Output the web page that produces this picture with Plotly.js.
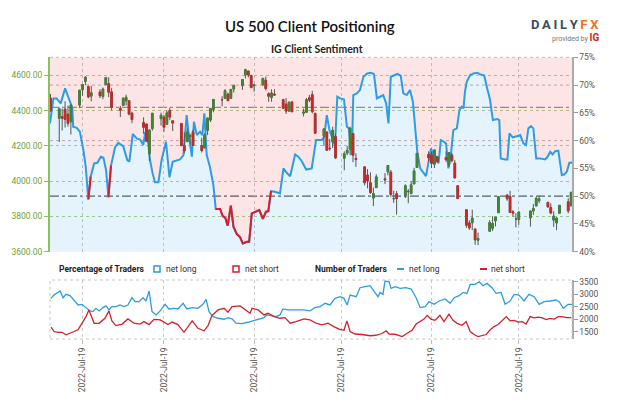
<!DOCTYPE html>
<html><head><meta charset="utf-8">
<script src="https://cdn.plot.ly/plotly-3.0.1.min.js"></script>
<style>html,body{margin:0;padding:0;background:#fff}#chart{width:625px;height:416px}</style>
</head><body><div id="chart"></div>
<script>
// ---------- DATA ----------
const candleDates = [
'01-21','01-24','01-25','01-26','01-27','01-28','01-31',
'02-01','02-02','02-03','02-04','02-07','02-08','02-09','02-10','02-11','02-14','02-15','02-16','02-17','02-18','02-22','02-23','02-24','02-25','02-28',
'03-01','03-02','03-03','03-04','03-07','03-08','03-09','03-10','03-11','03-14','03-15','03-16','03-17','03-18','03-21','03-22','03-23','03-24','03-25','03-28','03-29','03-30','03-31',
'04-01','04-04','04-05','04-06','04-07','04-08','04-11','04-12','04-13','04-14','04-18','04-19','04-20','04-21','04-22','04-25','04-26','04-27','04-28','04-29',
'05-02','05-03','05-04','05-05','05-06','05-09','05-10','05-11','05-12','05-13','05-16','05-17','05-18','05-19','05-20','05-23','05-24','05-25','05-26','05-27','05-31',
'06-01','06-02','06-03','06-06','06-07','06-08','06-09','06-10','06-13','06-14','06-15','06-16','06-17','06-21','06-22','06-23','06-24','06-27','06-28','06-29','06-30',
'07-01','07-05','07-06','07-07','07-08','07-11','07-12','07-13','07-14','07-15','07-18','07-19'];
const openP = [
4471,4356,4366,4408,4380,4337,4431,
4519,4566,4535,4482,4505,4480,4547,4553,4506,4412,4429,4455,4456,4385,4332,4324,4155,4298,4354,
4363,4322,4401,4342,4327,4202,4224,4252,4279,4202,4188,4288,4346,4407,4462,4469,4493,4470,4522,4541,4602,4624,4599,
4540,4547,4572,4495,4474,4494,4463,4437,4397,4449,4385,4390,4473,4490,4385,4255,4279,4187,4222,4253,
4130,4159,4181,4270,4129,4081,4035,3991,3904,3963,4013,4052,4051,3900,3928,3920,3942,3929,3984,4078,4151,
4149,4096,4137,4134,4096,4148,4102,3974,3838,3763,3764,3729,3665,3716,3733,3775,3821,3920,3913,3826,3785,
3782,3792,3831,3859,3889,3880,3851,3779,3763,3818,3883,3860];
const highP = [
4494,4417,4411,4453,4428,4432,4516,
4550,4595,4542,4540,4521,4531,4590,4589,4527,4426,4472,4490,4456,4394,4362,4324,4295,4385,4388,
4375,4401,4416,4342,4327,4276,4299,4268,4292,4247,4271,4358,4412,4465,4481,4522,4501,4521,4546,4576,4637,4627,4603,
4549,4583,4593,4503,4521,4521,4464,4471,4453,4453,4411,4471,4489,4512,4386,4299,4279,4240,4308,4270,
4169,4200,4308,4270,4158,4081,4068,4050,3964,4039,4046,4090,4063,3946,3944,3982,3955,3999,4076,4158,4169,
4166,4177,4143,4169,4164,4160,4119,3974,3838,3778,3838,3729,3708,3779,3801,3796,3913,3928,3945,3836,3818,
3829,3832,3870,3910,3918,3880,3874,3829,3796,3863,3903,3939];
const lowP = [
4395,4222,4287,4304,4309,4264,4414,
4484,4544,4470,4452,4471,4465,4547,4477,4402,4364,4429,4429,4373,4328,4268,4221,4114,4286,4315,
4279,4322,4345,4284,4199,4157,4224,4209,4200,4162,4187,4261,4335,4391,4424,4469,4455,4465,4502,4517,4582,4588,4530,
4507,4539,4514,4450,4450,4485,4408,4381,4393,4392,4367,4388,4448,4384,4267,4200,4175,4173,4188,4125,
4062,4147,4147,4107,4081,3976,3959,3928,3859,3963,3983,4033,3911,3877,3810,3904,3875,3926,3984,4077,4110,
4074,4074,4107,4110,4081,4107,4017,3900,3735,3724,3723,3639,3637,3716,3717,3743,3821,3889,3820,3799,3738,
3752,3742,3809,3859,3875,3850,3813,3741,3722,3817,3818,3860];
const closeP = [
4398,4410,4356,4350,4327,4432,4516,
4547,4589,4477,4501,4484,4522,4587,4504,4419,4402,4471,4475,4380,4349,4305,4226,4289,4385,4374,
4306,4387,4363,4329,4201,4171,4278,4260,4204,4173,4262,4358,4412,4463,4461,4512,4456,4520,4543,4576,4632,4602,4530,
4546,4583,4525,4481,4500,4488,4413,4397,4447,4393,4392,4462,4459,4394,4272,4296,4175,4184,4288,4132,
4155,4175,4300,4147,4123,3991,4001,3935,3930,4024,4008,4089,3924,3901,3901,3974,3941,3979,4058,4158,4132,
4101,4177,4109,4121,4161,4116,4018,3901,3750,3735,3790,3667,3675,3765,3760,3796,3912,3900,3822,3819,3785,
3825,3831,3845,3903,3899,3854,3819,3802,3790,3863,3831,3937];

// Net-long sentiment (%), time in days after 2022-02-01
const sentDays = [
-11.2,-10.0,-8.9,-7.5,-6.0,-4.3,-3.5,-3.2,-2.0,-0.9,
0.3,1.1,2.0,2.8,4.0,5.1,6.3,7.2,8.1,8.9,
9.8,11.2,12.3,14.0,15.4,16.1,17.3,18.6,19.8,20.9,
21.5,22.3,23.2,24.1,24.9,26.1,27.2,28.7,29.9,31.0,
32.4,33.5,34.7,35.8,36.6,37.6,38.3,39.3,40.4,41.2,
41.9,42.7,43.8,45.0,45.8,47.3,48.2,49.1,49.9,51.0,
51.9,53.0,54.2,55.1,56.5,57.3,58.2,59.7,60.8,62.0,
63.1,63.9,64.8,66.2,67.9,69.1,70.2,71.4,73.1,74.2,
75.4,76.9,78.8,80.3,82.3,83.1,84.0,84.9,86.0,86.8,
87.6,88.6,89.9,90.9,91.6,92.6,93.1,94.3,95.4,96.6,
97.9,99.1,100.2,101.2,102.3,103.4,104.4,105.2,106.0,107.1,
108.3,109.4,110.3,111.5,112.6,113.6,114.3,115.1,116.1,117.2,
118.1,118.9,119.8,120.6,121.6,122.4,123.2,124.3,125.0,125.8,
126.7,127.5,128.7,129.6,130.4,131.0,131.5,132.1,133.3,134.4,
135.8,136.9,138.1,139.0,140.1,141.1,141.9,142.6,143.3,143.8,
145.3,146.1,146.8,147.9,149.3,150.5,151.6,152.5,153.3,154.2,
155.0,156.0,157.3,159.0,159.8,160.8,161.6,162.5,163.6,164.8,
165.6,166.5,167.4,168.3];
const sentPct = [
63.1,67.6,67.6,66.7,69.4,67.0,65.9,62.5,62.3,61.6,
58.3,55.3,49.4,53.5,55.9,56.0,57.1,56.9,54.7,49.8,
55.5,58.8,59.6,59.0,56.5,56.2,61.2,60.4,60.2,59.2,
61.3,61.0,56.5,54.1,52.5,52.5,56.5,59.8,53.4,56.2,
56.5,56.6,57.4,64.6,60.7,57.1,63.4,61.0,61.6,61.0,
64.9,57.4,55.3,52.0,47.7,47.7,46.4,46.1,44.7,48.3,
44.5,43.2,42.6,41.5,41.8,41.8,46.9,47.2,47.5,45.9,
47.2,47.3,50.9,50.8,50.5,55.0,54.2,53.6,57.5,57.1,
56.3,54.8,55.0,60.1,60.1,60.7,64.6,61.9,60.2,59.1,
67.9,67.6,67.4,62.5,62.2,57.4,68.2,68.5,69.1,71.5,
72.1,72.2,72.0,67.6,67.9,68.2,66.7,63.1,71.5,71.8,
72.0,71.7,68.5,68.2,69.1,67.0,63.4,58.0,55.0,54.2,
53.6,55.9,58.6,57.4,57.1,55.9,60.1,59.8,59.5,55.0,
57.7,61.9,62.2,65.5,66.1,65.8,68.8,70.6,71.8,72.1,
72.2,71.9,71.7,69.7,67.4,63.7,63.8,63.9,63.7,56.8,
56.6,56.6,61.3,60.6,60.8,61.0,59.5,59.2,62.2,62.6,
62.2,56.8,56.8,56.6,57.0,58.0,57.5,58.1,58.2,53.8,
53.9,54.4,56.0,56.0];

// Number of traders, net long
const longDays = [
-10.9,-9.8,-8.4,-7.7,-6.7,-5.7,-4.3,-2.9,-1.5,-0.2,
1.2,2.6,3.6,4.6,5.7,7.0,8.1,9.1,10.1,11.5,
12.9,14.3,15.6,17.0,18.1,19.4,20.8,21.8,22.9,23.9,
25.3,26.7,28.4,29.7,31.5,32.8,34.6,35.9,37.7,39.7,
41.4,42.5,43.5,44.9,46.6,48.7,50.0,51.4,52.8,54.8,
56.9,58.3,59.7,61.0,62.4,63.4,64.8,66.5,67.9,68.9,
70.7,73.4,76.2,78.2,79.9,81.7,83.4,85.1,86.8,88.6,
89.9,91.0,92.0,94.1,95.4,97.1,98.9,100.2,101.6,102.3,
103.3,104.0,105.4,106.1,107.5,109.2,111.2,113.0,114.7,116.1,
117.8,119.1,120.9,122.6,124.7,126.4,127.8,129.5,130.9,132.2,
133.3,135.0,136.4,137.7,139.1,140.8,142.2,143.9,145.3,147.0,
148.4,150.1,151.8,153.5,155.3,157.0,158.7,160.8,162.8,163.9,
165.3,167.0,168.3];
const longCount = [
2833,2967,3073,3127,2860,2993,2940,2767,2567,2593,
2460,2327,2300,2433,2327,2460,2527,2367,2500,2500,
2567,2500,2567,2860,2700,2700,2860,2727,3127,2300,
2167,2327,2593,2407,2433,2407,2633,2407,2460,2433,
2593,2793,2300,2100,2033,1993,2060,2007,1833,1820,
1873,1927,1967,2033,2060,2167,2140,2100,2167,2407,
2367,2367,2367,2327,2460,2500,2633,2567,2833,2900,
2833,2567,2967,2900,3260,3300,3340,3127,2900,3073,
2993,3527,3500,3233,3300,3233,3260,3207,2860,2460,
2500,2700,2593,2727,2807,2633,2860,2940,3073,3033,
3393,3393,3500,3340,3433,3260,3033,3073,2593,2727,
2993,2967,2727,2993,2900,2593,2700,2727,2767,2700,
2433,2593,2593];

// Number of traders, net short
const shortDays = [
-10.8,-9.8,-8.4,-7.0,-5.7,-4.3,-2.9,-1.5,-0.2,1.2,
2.2,4.0,5.7,7.7,9.1,10.1,11.5,13.6,15.6,17.7,
19.8,21.1,22.9,24.6,26.7,28.1,29.4,30.8,32.8,34.9,
36.3,37.7,39.7,41.8,43.2,44.5,46.6,48.7,50.0,51.4,
54.2,56.2,57.6,58.3,60.4,62.4,63.8,65.9,67.9,69.6,
71.4,73.4,76.2,78.2,80.3,82.3,84.4,86.4,88.2,89.9,
90.9,92.0,93.7,96.1,98.9,100.9,103.0,104.4,105.4,107.5,
109.9,111.9,113.3,114.7,116.1,117.4,118.5,119.8,121.2,122.9,
124.3,126.0,127.4,128.8,130.5,131.9,133.3,134.6,136.0,137.4,
138.8,140.1,141.5,142.9,144.3,145.7,147.0,148.4,149.8,151.2,
152.5,153.9,155.3,156.7,158.1,159.4,160.8,162.2,163.6,165.0,
166.4,168.1];
const shortCount = [
1673,1500,1470,1470,1367,1450,1500,1580,1830,2100,
2367,1830,1830,2033,2327,1930,1740,1800,2007,1833,
1800,1900,1780,1990,1970,1880,1780,1880,1780,1470,
1700,1930,1630,1530,1750,2140,2367,2433,2273,2500,
2530,2367,2233,2433,2367,2167,2233,2100,2033,2060,
1833,1900,2007,1967,1833,1767,1833,1700,1600,1550,
1927,1500,1400,1380,1330,1350,1420,1530,1400,1390,
1300,1450,1550,1800,1900,2000,2150,2000,1950,2150,
1900,2200,1950,1830,1750,1900,1500,1380,1300,1330,
1380,1560,1700,1780,1930,2100,1930,1950,1880,1900,
1800,2100,2050,2080,2050,1980,2030,2000,2100,2100,
2060,2060];

const monthTicks = ['2022-02-01','2022-03-01','2022-04-01','2022-05-01','2022-06-01','2022-07-01'];
const dateTickText = ['2022-Jul-19','2022-Jul-19','2022-Jul-19','2022-Jul-19','2022-Jul-19','2022-Jul-19'];
const priceTicks = [3600,3800,4000,4200,4400,4600];
const pctTicks = [40,45,50,55,60,65,70,75];
const pctTickText = ['40%','45%','50%','55%','60%','65%','70%','75%'];
const countTicks = [1500,2000,2500,3000,3500];
const pctGridLevels = [60,70];
const refLevels = [50,66];

// ---------- HELPERS ----------
const BASE = Date.parse('2022-02-01T00:00:00Z');
const dayOff = s => (Date.parse(s + 'T00:00:00Z') - BASE) / 86400000;
const candleX = candleDates.map(d => dayOff('2022-' + d));
const tickX = monthTicks.map(dayOff);
const X_RANGE = [-11.18, 168.3];
const PCT_RANGE = [40, 75];
const px = v => v / 625, py = v => 1 - v / 416;
const xDom = [px(50), px(572)];
const yTop = [py(251.7), py(57.3)];
const yBot = [py(339), py(280)];

const BLUE = '#2b9de3', RED = '#d71f2b', GREEN_C = '#3e8a2e', RED_C = '#d42424';
const redY = sentPct.map((v, i) => (v < 50 || (i > 0 && sentPct[i - 1] < 50)) ? v : null);
const bodyHi = openP.map((o, i) => Math.max(o, closeP[i]));
const bodyLo = openP.map((o, i) => Math.min(o, closeP[i]));

const traces = [
  {type:'scatter', mode:'lines', x:sentDays, y:sentPct, xaxis:'x', yaxis:'y',
   fill:'tozeroy', fillcolor:'rgba(75,175,235,0.15)', line:{width:0}, hoverinfo:'skip'},
  {type:'scatter', mode:'lines', x:sentDays, y:sentDays.map(() => PCT_RANGE[1]), xaxis:'x', yaxis:'y',
   fill:'tonexty', fillcolor:'rgba(240,80,80,0.15)', line:{width:0}, hoverinfo:'skip'},
  {type:'scatter', mode:'lines', x:sentDays, y:sentPct, xaxis:'x', yaxis:'y',
   line:{color:BLUE, width:2}},
  {type:'scatter', mode:'lines', x:sentDays, y:redY, xaxis:'x', yaxis:'y',
   line:{color:RED, width:2}, connectgaps:false},
  {type:'candlestick', x:candleX, open:openP, high:highP, low:lowP, close:closeP, xaxis:'x', yaxis:'y2',
   increasing:{line:{color:'#555', width:1}, fillcolor:GREEN_C},
   decreasing:{line:{color:'#555', width:1}, fillcolor:RED_C}, whiskerwidth:0},
  {type:'candlestick', x:candleX, open:openP, high:bodyHi, low:bodyLo, close:closeP, xaxis:'x', yaxis:'y2',
   increasing:{line:{color:GREEN_C, width:0.5}, fillcolor:GREEN_C},
   decreasing:{line:{color:RED_C, width:0.5}, fillcolor:RED_C}, whiskerwidth:0},
  {type:'scatter', mode:'lines', x:longDays, y:longCount, xaxis:'x2', yaxis:'y3',
   line:{color:BLUE, width:1.3}},
  {type:'scatter', mode:'lines', x:shortDays, y:shortCount, xaxis:'x2', yaxis:'y3',
   line:{color:RED, width:1.3}}
];

const tickFont = {family:'Roboto, Arial, sans-serif', size:8.5, color:'#555'};
const shapes = [];
pctGridLevels.forEach(v => shapes.push({type:'line', xref:'paper', yref:'y', x0:xDom[0], x1:xDom[1], y0:v, y1:v,
  line:{color:'#cfa4a4', width:1, dash:'dot'}, layer:'below'}));
shapes.push({type:'line', xref:'paper', yref:'y', x0:xDom[0], x1:xDom[1], y0:refLevels[0], y1:refLevels[0],
  line:{color:'#555', width:1.2, dash:'dashdot'}, layer:'below'});
shapes.push({type:'line', xref:'paper', yref:'y', x0:xDom[0], x1:xDom[1], y0:refLevels[1], y1:refLevels[1],
  line:{color:'#9a8a8a', width:1.2, dash:'dashdot'}, layer:'below'});
// panel borders
shapes.push({type:'line', xref:'paper', yref:'paper', x0:xDom[0], x1:xDom[1], y0:yTop[1], y1:yTop[1], line:{color:'#c9b9b9', width:1, dash:'dot'}});
shapes.push({type:'rect', xref:'paper', yref:'paper', x0:xDom[0], x1:xDom[1], y0:yBot[0], y1:yBot[1], line:{color:'#c8c8c8', width:1, dash:'dot'}});
// legend marks
shapes.push({type:'rect', xref:'paper', yref:'paper', x0:px(154), x1:px(160), y0:py(272), y1:py(266), line:{color:BLUE, width:1.5}, fillcolor:'#fff'});
shapes.push({type:'rect', xref:'paper', yref:'paper', x0:px(233), x1:px(239), y0:py(272), y1:py(266), line:{color:RED, width:1.5}, fillcolor:'#fff'});
shapes.push({type:'line', xref:'paper', yref:'paper', x0:px(397), x1:px(404), y0:py(269), y1:py(269), line:{color:BLUE, width:2}});
shapes.push({type:'line', xref:'paper', yref:'paper', x0:px(480), x1:px(487), y0:py(269), y1:py(269), line:{color:RED, width:2}});

const legFont = {family:'Roboto, Arial, sans-serif', size:8.5, color:'#333'};
const ann = (text, x, y, font, xanchor) => ({text, x:px(x), y:py(y), xref:'paper', yref:'paper',
  showarrow:false, xanchor:xanchor || 'left', yanchor:'middle', font});
const annotations = [
  ann('US 500 Client Positioning', 310, 26, {family:'Lato, sans-serif', size:15, color:'#111', weight:600}, 'center'),
  ann('<b>IG Client Sentiment</b>', 317, 49, {family:'Lato, sans-serif', size:10.5, color:'#222'}, 'center'),
  ann('<b><span style="color:#3d4b5c">D\u2009A\u2009I\u2009L\u2009Y</span><span style="color:#f26f21">\u2009F\u2009X</span></b>', 601, 24, {family:'Roboto, sans-serif', size:13}, 'right'),
  ann('<span style="color:#777">provided by </span><b><span style="color:#e0201b;font-size:10px">IG</span></b>', 601, 37, {family:'Roboto, sans-serif', size:7}, 'right'),
  ann('<b>Percentage of Traders</b>', 57, 269, Object.assign({}, legFont, {color:'#222'})),
  ann('net long', 164, 269, legFont),
  ann('net short', 243, 269, legFont),
  ann('<b>Number of Traders</b>', 313, 269, Object.assign({}, legFont, {color:'#222'})),
  ann('net long', 407, 269, legFont),
  ann('net short', 489, 269, legFont)
];

const layout = {
  width:625, height:416, margin:{l:0, r:0, t:0, b:0}, autosize:false,
  paper_bgcolor:'#fff', plot_bgcolor:'#fff', showlegend:false, hovermode:false,
  font:{family:'Roboto, Arial, sans-serif', size:9, color:'#555'},
  boxgap:0.15,
  xaxis:{domain:xDom, anchor:'y', range:X_RANGE, tickvals:tickX, showticklabels:false, ticks:'',
    showgrid:true, gridcolor:'#c4c4c4', griddash:'dot', zeroline:false, showline:false, rangeslider:{visible:false}},
  xaxis2:{domain:xDom, anchor:'y3', matches:'x', range:X_RANGE, tickvals:tickX, ticktext:dateTickText,
    tickangle:-90, tickfont:tickFont, ticks:'outside', ticklen:4, tickcolor:'#bbb',
    showgrid:true, gridcolor:'#c8c8c8', griddash:'dot', zeroline:false, showline:false, rangeslider:{visible:false}},
  yaxis:{domain:yTop, anchor:'x', side:'right', range:PCT_RANGE, tickmode:'array', tickvals:pctTicks, ticktext:pctTickText,
    tickfont:tickFont, ticks:'outside', ticklen:4, tickcolor:'#999', showline:true, linecolor:'#aaa', linewidth:1.5,
    showgrid:false, zeroline:false},
  yaxis2:{overlaying:'y', anchor:'x', side:'left', range:[3600, 4702], tickvals:priceTicks, tickformat:'.2f',
    tickfont:{family:'Roboto, Arial, sans-serif', size:8.5, color:'#6e9e42'}, ticks:'outside', ticklen:4,
    tickcolor:'#8cbf5f', showline:true, linecolor:'#8cbf5f', linewidth:2,
    showgrid:true, gridcolor:'#a9cc86', griddash:'dot', zeroline:false},
  yaxis3:{domain:yBot, anchor:'x2', side:'right', range:[1200, 3570], tickvals:countTicks,
    tickfont:tickFont, ticks:'outside', ticklen:4, tickcolor:'#999', showline:true, linecolor:'#aaa', linewidth:1.5,
    showgrid:false, zeroline:false},
  shapes, annotations
};

Plotly.newPlot('chart', traces, layout, {staticPlot:true, displayModeBar:false});
</script></body></html>
